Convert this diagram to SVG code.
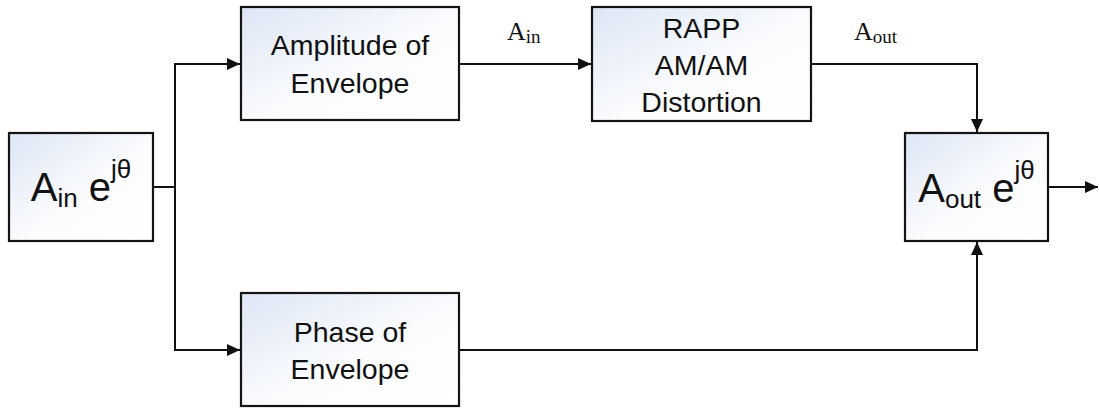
<svg xmlns="http://www.w3.org/2000/svg" width="1099" height="408" viewBox="0 0 1099 408">
  <style>
    .box { fill: url(#boxFill); stroke: #141414; stroke-width: 2.2; }
    .wire { fill: none; stroke: #111; stroke-width: 2; }
    .lbl { font-family: "Liberation Sans", Arial, sans-serif; font-size: 28.5px; fill: #111; text-anchor: middle; }
    .sym { font-family: "Liberation Sans", Arial, sans-serif; font-size: 40px; fill: #111; text-anchor: middle; }
    .sig { font-family: "Liberation Serif", "Times New Roman", serif; font-size: 26px; fill: #111; }
  </style>
  <defs>
    <linearGradient id="boxFill" x1="0" y1="0" x2="1" y2="1">
      <stop offset="0" stop-color="#dde6f5"/>
      <stop offset="0.55" stop-color="#fbfcfe"/>
      <stop offset="1" stop-color="#ffffff"/>
    </linearGradient>
    <marker id="arrow" markerUnits="userSpaceOnUse" markerWidth="14" markerHeight="12" refX="13" refY="6" orient="auto">
      <path d="M0,0 L13,6 L0,12 z" fill="#111"/>
    </marker>
  </defs>

  <!-- connectors -->
  <g id="connectors">
    <path class="wire" d="M153,187 H175"/>
    <path class="wire" d="M175,187 V64 H240" marker-end="url(#arrow)"/>
    <path class="wire" d="M175,187 V350 H240" marker-end="url(#arrow)"/>
    <path class="wire" d="M459,64 H591" marker-end="url(#arrow)"/>
    <path class="wire" d="M811,64 H977 V132" marker-end="url(#arrow)"/>
    <path class="wire" d="M459,350 H977 V242" marker-end="url(#arrow)"/>
    <path class="wire" d="M1048,187 H1098" marker-end="url(#arrow)"/>
  </g>

  <!-- signal labels -->
  <g id="signal-labels">
    <text class="sig" x="507" y="40">A<tspan font-size="19" dy="3">in</tspan></text>
    <text class="sig" x="854" y="40">A<tspan font-size="19" dy="3">out</tspan></text>
  </g>

  <!-- input envelope -->
  <g id="input">
    <rect class="box" x="9" y="133" width="144" height="108"/>
    <text class="sym" x="81" y="201">A<tspan font-size="26" dy="6">in</tspan><tspan dy="-6"> e</tspan><tspan font-size="26" dy="-23">jθ</tspan></text>
  </g>

  <g id="amplitude">
    <rect class="box" x="241" y="7" width="218" height="113"/>
    <text class="lbl" x="350" y="55">Amplitude of</text>
    <text class="lbl" x="350" y="93">Envelope</text>
  </g>

  <g id="rapp">
    <rect class="box" x="592" y="7" width="219" height="114"/>
    <text class="lbl" x="701.5" y="38">RAPP</text>
    <text class="lbl" x="701.5" y="75">AM/AM</text>
    <text class="lbl" x="701.5" y="112">Distortion</text>
  </g>

  <g id="phase">
    <rect class="box" x="241" y="293" width="218" height="113"/>
    <text class="lbl" x="350" y="342">Phase of</text>
    <text class="lbl" x="350" y="379">Envelope</text>
  </g>

  <!-- output envelope -->
  <g id="output">
    <rect class="box" x="905" y="133" width="143" height="108"/>
    <text class="sym" x="976.5" y="202">A<tspan font-size="26" dy="6">out</tspan><tspan dy="-6"> e</tspan><tspan font-size="26" dy="-23">jθ</tspan></text>
  </g>
</svg>
